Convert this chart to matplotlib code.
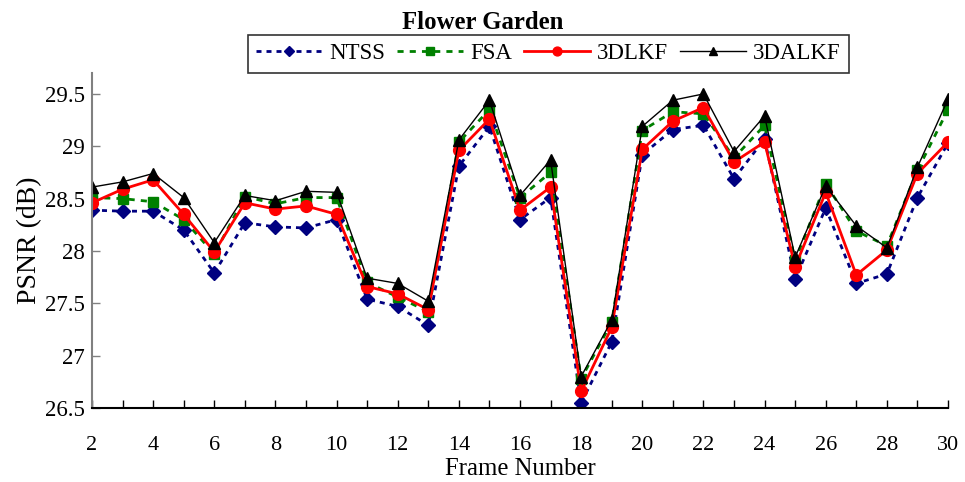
import matplotlib
matplotlib.use("Agg")
import matplotlib.pyplot as plt
from matplotlib.ticker import MultipleLocator, FuncFormatter

frames = list(range(2, 31))
ntss = [28.39, 28.38, 28.38, 28.20, 27.79, 28.27, 28.23, 28.22, 28.30, 27.54,
        27.47, 27.29, 28.81, 29.19, 28.30, 28.51, 26.55, 27.13, 28.92, 29.16,
        29.20, 28.69, 29.07, 27.73, 28.41, 27.69, 27.78, 28.51, 29.03]
fsa = [28.51, 28.50, 28.47, 28.30, 27.97, 28.52, 28.45, 28.51, 28.51, 27.70,
       27.56, 27.42, 29.04, 29.35, 28.51, 28.75, 26.78, 27.32, 29.15, 29.33,
       29.31, 28.89, 29.20, 27.91, 28.64, 28.19, 28.05, 28.77, 29.35]
dlkf = [28.46, 28.59, 28.68, 28.35, 27.99, 28.46, 28.40, 28.43, 28.35, 27.66,
        27.59, 27.44, 28.96, 29.26, 28.39, 28.61, 26.66, 27.27, 28.97, 29.24,
        29.37, 28.85, 29.04, 27.85, 28.56, 27.77, 28.01, 28.74, 29.04]
dalkf = [28.61, 28.66, 28.74, 28.51, 28.08, 28.53, 28.48, 28.57, 28.56, 27.74,
         27.69, 27.52, 29.06, 29.44, 28.53, 28.87, 26.80, 27.34, 29.19, 29.44,
         29.50, 28.95, 29.29, 27.94, 28.62, 28.24, 28.03, 28.80, 29.45]

plt.rcParams['font.family'] = ['Liberation Serif', 'DejaVu Serif']

fig = plt.figure(figsize=(9.65, 4.82), dpi=100)
ax = fig.add_axes([92/965, 1-408/482, (948-92)/965, (408-73)/482])

ax.plot(frames, ntss, color='#000080', lw=2.0, ls=(0, (1.8, 1.8)), marker='D',
        ms=7, mfc='#000080', mec='#000080', label='NTSS')
ax.plot(frames, fsa, color='#008000', lw=2.0, ls=(0, (2.2, 2.2)), marker='s',
        ms=7.8, mfc='#008000', mec='#008000', label='FSA')
ax.plot(frames, dlkf, color='#ff0000', lw=2.0, ls='-', marker='o',
        ms=8.5, mfc='#ff0000', mec='#ff0000', label='3DLKF')
ax.plot(frames, dalkf, color='#000000', lw=1.0, ls='-', marker='^',
        ms=8.5, mfc='#000000', mec='#000000', label='3DALKF')

ax.set_xlim(2, 30)
ax.set_ylim(26.5, 29.7)
ax.xaxis.set_major_locator(MultipleLocator(2))
ax.xaxis.set_minor_locator(MultipleLocator(1))
ax.yaxis.set_major_locator(MultipleLocator(0.5))
ax.yaxis.set_major_formatter(FuncFormatter(lambda v, p: f"{v:g}"))

ax.spines['top'].set_visible(False)
ax.spines['right'].set_visible(False)
ax.spines['left'].set_color('#808080')
ax.spines['left'].set_linewidth(1.5)
ax.spines['bottom'].set_color('black')
ax.spines['bottom'].set_linewidth(1.5)

ax.tick_params(axis='x', which='both', direction='in', length=6, width=1,
               color='black', labelsize=16, pad=20)
ax.tick_params(axis='y', direction='in', length=6, width=1, color='#808080',
               labelsize=16.5, pad=5)
ax.tick_params(axis='x', which='minor', labelbottom=False)

ax.set_xlabel('Frame Number', fontsize=17.8, labelpad=2)
ax.set_ylabel('PSNR (dB)', fontsize=20, labelpad=2)

fig.text(0.5, 1-22.5/482, 'Flower Garden', ha='center', va='center',
         fontsize=17.8, fontweight='bold')

leg = fig.legend(loc='upper left', bbox_to_anchor=(248/965, 1-35/482), ncol=4,
                 fontsize=16.5, frameon=True, fancybox=False, edgecolor='black',
                 handlelength=2.9, handletextpad=0.3, columnspacing=0.5,
                 borderpad=0.36, borderaxespad=0, markerscale=0.75)
leg.get_frame().set_linewidth(1.2)

fig.savefig('out.png', dpi=100)
